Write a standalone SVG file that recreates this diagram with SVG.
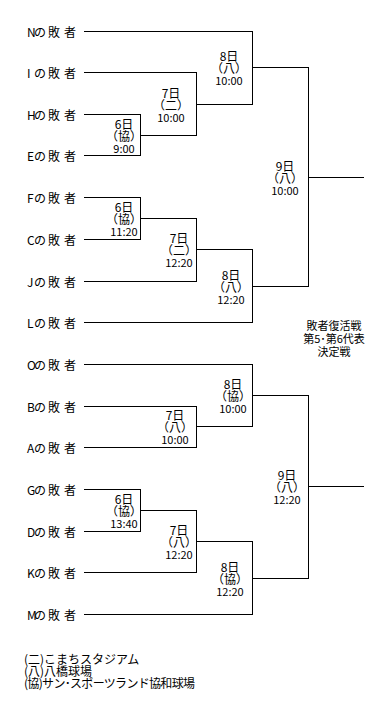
<svg xmlns="http://www.w3.org/2000/svg" width="385" height="709" viewBox="0 0 385 709">
<style>
text{font-family:"Noto Sans CJK JP","Liberation Sans",sans-serif;fill:#000;dominant-baseline:central}
.lb{font-size:12px}
.m{font-size:12px;text-anchor:middle}
.t{font-size:11px}
.r{font-size:11px;text-anchor:middle}
.lg{font-size:12px}
#connectors path{fill:none;stroke:#000;stroke-width:1;shape-rendering:crispEdges}
</style>
<rect width="385" height="709" fill="#fff"/>
<g id="connectors">
<path d="M84 114.5H140.5V155.5H84M140.5 135.5H196.5"/>
<path d="M84 72.5H196.5V135.5M196.5 104.5H252.5"/>
<path d="M84 31.5H252.5V104.5M252.5 67.5H308.5"/>
<path d="M84 197.5H140.5V239.5H84M140.5 218.5H196.5"/>
<path d="M84 281.5H196.5V218.5M196.5 249.5H252.5"/>
<path d="M84 322.5H252.5V249.5M252.5 286.5H308.5"/>
<path d="M308.5 67.5V286.5M308.5 177.5H364"/>
<path d="M84 406.5H196.5V447.5H84M196.5 426.5H252.5"/>
<path d="M84 364.5H252.5V426.5M252.5 395.5H308.5"/>
<path d="M84 489.5H140.5V531.5H84M140.5 510.5H196.5"/>
<path d="M84 572.5H196.5V510.5M196.5 541.5H252.5"/>
<path d="M84 614.5H252.5V541.5M252.5 578.5H308.5"/>
<path d="M308.5 395.5V578.5M308.5 486.5H364"/>
</g>
<g id="teams">
<g id="team-N"><text class="lb" x="27 34 48 64" y="31">Nの敗者</text></g>
<g id="team-I"><text class="lb" x="27 34 48 64" y="72">Iの敗者</text></g>
<g id="team-H"><text class="lb" x="27 34 48 64" y="114">Hの敗者</text></g>
<g id="team-E"><text class="lb" x="27 34 48 64" y="155">Eの敗者</text></g>
<g id="team-F"><text class="lb" x="27 34 48 64" y="197">Fの敗者</text></g>
<g id="team-C"><text class="lb" x="27 34 48 64" y="239">Cの敗者</text></g>
<g id="team-J"><text class="lb" x="27 34 48 64" y="281">Jの敗者</text></g>
<g id="team-L"><text class="lb" x="27 34 48 64" y="322">Lの敗者</text></g>
<g id="team-O"><text class="lb" x="27 34 48 64" y="364">Oの敗者</text></g>
<g id="team-B"><text class="lb" x="27 34 48 64" y="406">Bの敗者</text></g>
<g id="team-A"><text class="lb" x="27 34 48 64" y="447">Aの敗者</text></g>
<g id="team-G"><text class="lb" x="27 34 48 64" y="489">Gの敗者</text></g>
<g id="team-D"><text class="lb" x="27 34 48 64" y="531">Dの敗者</text></g>
<g id="team-K"><text class="lb" x="27 34 48 64" y="572">Kの敗者</text></g>
<g id="team-M"><text class="lb" x="27 34 48 64" y="614">Mの敗者</text></g>
</g>
<g id="matches">
<g id="m1"><text class="m"><tspan x="124" y="122.5">6日</tspan><tspan x="124" y="135">（協）</tspan><tspan class="t" x="124" y="147.5">9:00</tspan></text></g>
<g id="m2"><text class="m"><tspan x="171" y="91.5">7日</tspan><tspan x="171" y="104">（二）</tspan><tspan class="t" x="171" y="116.5">10:00</tspan></text></g>
<g id="m3"><text class="m"><tspan x="229" y="54.5">8日</tspan><tspan x="229" y="67">（八）</tspan><tspan class="t" x="229" y="79.5">10:00</tspan></text></g>
<g id="m4"><text class="m"><tspan x="124" y="205.5">6日</tspan><tspan x="124" y="218">（協）</tspan><tspan class="t" x="124" y="230.5">11:20</tspan></text></g>
<g id="m5"><text class="m"><tspan x="179" y="236.5">7日</tspan><tspan x="179" y="249">（二）</tspan><tspan class="t" x="179" y="261.5">12:20</tspan></text></g>
<g id="m6"><text class="m"><tspan x="231" y="273.5">8日</tspan><tspan x="231" y="286">（八）</tspan><tspan class="t" x="231" y="298.5">12:20</tspan></text></g>
<g id="m7"><text class="m"><tspan x="285" y="164.5">9日</tspan><tspan x="285" y="177">（八）</tspan><tspan class="t" x="285" y="189.5">10:00</tspan></text></g>
<g id="m8"><text class="m"><tspan x="175" y="413.5">7日</tspan><tspan x="175" y="426">（八）</tspan><tspan class="t" x="175" y="438.5">10:00</tspan></text></g>
<g id="m9"><text class="m"><tspan x="233" y="382.5">8日</tspan><tspan x="233" y="395">（協）</tspan><tspan class="t" x="233" y="407.5">10:00</tspan></text></g>
<g id="m10"><text class="m"><tspan x="124" y="497.5">6日</tspan><tspan x="124" y="510">（協）</tspan><tspan class="t" x="124" y="522.5">13:40</tspan></text></g>
<g id="m11"><text class="m"><tspan x="179" y="528.5">7日</tspan><tspan x="179" y="541">（八）</tspan><tspan class="t" x="179" y="553.5">12:20</tspan></text></g>
<g id="m12"><text class="m"><tspan x="230" y="565.5">8日</tspan><tspan x="230" y="578">（協）</tspan><tspan class="t" x="230" y="590.5">12:20</tspan></text></g>
<g id="m13"><text class="m"><tspan x="287" y="473.5">9日</tspan><tspan x="287" y="486">（八）</tspan><tspan class="t" x="287" y="498.5">12:20</tspan></text></g>
</g>
<g id="title">
<text class="r"><tspan x="334" y="325">敗者復活戦</tspan><tspan x="334" y="338">第5･第6代表</tspan><tspan x="334" y="351">決定戦</tspan></text>
</g>
<g id="legend">
<text class="lg"><tspan x="24" y="658">(二)こまちスタジアム</tspan><tspan x="24" y="670">(八)八橋球場</tspan><tspan x="24" y="682" textLength="171">(協)サン･スポーツランド協和球場</tspan></text>
</g>
</svg>
